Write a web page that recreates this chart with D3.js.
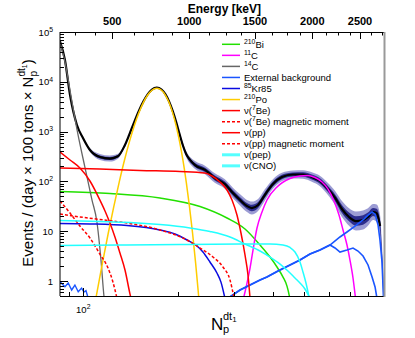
<!DOCTYPE HTML>
<html>
<head>
<meta charset="utf-8">
<title>Np spectrum fit</title>
<style>
body { margin: 0; background: #fff; }
svg { font-family: "Liberation Sans", Arial, sans-serif; }
</style>
</head>
<body>
<div id="chart"></div>

<script src="https://cdnjs.cloudflare.com/ajax/libs/d3/7.8.5/d3.min.js" charset="utf-8"></script>
<script>
// spectra: [N_p, events / (day x 100 tons x N_p)]
var c14 = [[84.4,62000],[87.5,25000],[91.9,4310],[96.0,938],[101.2,194],[106.6,42.3],[110.5,15.3],[113.8,2.64],[116.3,0.5],[117.5,0.3]];
var bi210 = [[84.4,62.7],[121.5,57.1],[175,46.5],[234.4,31.3],[285.4,18.4],[325.4,11.1],[363.1,5.28],[390.6,3.03],[411,1.91],[429.4,1.2],[442,0.79],[450.2,0.48],[455,0.3]];
var c11 = [[321.9,0.45],[330.2,0.91],[337.6,1.82],[345,4.19],[355.2,11.6],[368.4,24.3],[382,42.3],[411,77.2],[451.9,114.4],[486,128.3],[511.5,131.3],[542.2,119.7],[570.7,97.3],[596.4,70.3],[623,40.4],[646,21.1],[665.2,10.6],[684.8,5.28],[699.9,2.64],[715.5,1.15],[728.7,0.45]];
var extBkgLow = [[84.4,0.97],[87.5,0.77],[89.6,0.91],[91.9,0.66],[94.1,0.83],[96.4,0.61],[98.8,0.72],[100.5,0.6],[102,0.64],[103.7,0.45]];
var extBkgA = [[287.4,0.45],[313.8,0.66],[337.6,0.83],[363.1,1.05],[381.9,1.2],[414,1.59],[451.9,2.1],[486,2.64],[522.8,3.48],[562.3,4.19],[604.9,5.28],[650.6,7.65],[684.8,9.64],[726.1,12.7],[769.8,16.8],[798.4,21.1],[822.2,24.3],[840.4,22],[859,13.3],[871,6.66],[884,2.41],[893.8,0.45]];
var extBkgB = [[287.4,0.45],[313.8,0.66],[337.6,0.83],[363.1,1.05],[381.9,1.2],[414,1.59],[451.9,2.1],[486,2.64],[522.8,3.48],[562.3,4.19],[604.9,5.28],[627.5,4.6],[650.6,3.82],[684.8,4.19],[715.6,4.6],[742,4.0],[769.8,3.18],[798.4,2.1],[822.2,1.2],[840.4,0.76],[852.2,0.45]];
var kr85 = [[84.4,14.3],[105,14.0],[137.6,13.0],[175,10.6],[195.2,8.8],[213.2,6.66],[229.3,5.05],[239.5,3.82],[252,2.41],[265.2,1.45],[273.1,0.95],[281.1,0.45]];
var po210 = [[108,0.27],[110,0.5],[115,2.29],[120,9.1],[125,31.6],[130,97],[135,263],[140,622],[145,1297],[150,2377],[155,3830],[160,5420],[165,6760],[171,7400],[177,6760],[182,5420],[187,3830],[192,2377],[197,1297],[202,622],[207,263],[212,97],[217,31.6],[222,9.1],[227,2.29],[232,0.5],[234,0.27]];
var be7 = [[84.4,186],[112.9,177],[151.2,165.6],[202.5,158],[242.9,147.4],[255.8,128.3],[271.2,97.3],[285.4,67.2],[296,42.3],[306.9,21.1],[316,9.2],[325.4,3.33],[332.6,1.32],[337.6,0.45]];
var be7Mm = [[84.4,22.1],[97.6,19.3],[112.9,17.2],[137.6,14.6],[175,10.6],[213.2,6.66],[234.4,4.6],[257.6,3.03],[277.1,1.91],[291.7,1.05],[300.5,0.45]];
var pp = [[84.4,389],[90.8,269],[97.6,186],[105,101.9],[112.9,42.3],[117.2,25.5],[121.5,14.6],[126,7.65],[130.7,3.65],[135.6,1.66],[140.6,0.55],[141.6,0.45]];
var ppMm = [[84.4,40.4],[90.8,23.2],[97.6,12.7],[105,7.3],[112.9,3.48],[119.8,1.82],[124.2,0.95],[127.9,0.45]];
var pep = [[84.4,5.16],[130.7,5.28],[202.5,5.41],[313.8,5.53],[390.6,5.53],[429.4,5.28],[451.9,4.71],[468.6,3.82],[486,2.41],[496.7,1.52],[507.7,0.91],[518.9,0.48]];
var cno = [[84.4,16.4],[112.9,15.7],[140.6,15.0],[175,13.6],[217.9,11.6],[252,9.86],[291.7,7.65],[325.4,5.53],[363.1,4.0],[390.6,3.03],[420.2,2.19],[445.2,1.59],[468.6,1.15],[486,0.91],[504,0.69],[522.8,0.45]];
var fitTotal = [[84.4,65000],[87.5,27400],[90.8,5430],[95.5,1358],[99.8,743],[105,427],[112.9,309],[121.5,288],[128.8,320],[135,510],[140,880],[145,1550],[150,2600],[155,4000],[160,5600],[165,7000],[171,7650],[177,7000],[182,5650],[187,4050],[192,2600],[197,1550],[202,880],[207,520],[212,350],[218,270],[226,213],[243,170],[261,117],[281,88.7],[298,58.5],[314,42.3],[330,32.1],[342,29.2],[358,33.6],[376,53.3],[399,88.7],[426,122.5],[462,137.6],[497,137.6],[530,122.5],[562,102],[596,70.3],[628,46.5],[660,27.9],[695,19.3],[731,16],[770,16.8],[798,19.3],[828,24.3],[850,23],[872,12.7]];
// measured data: [N_p, rate, multiplicative scatter of the bins]
var data = [[84.4,65000,1.03],[87.5,27400,1.03],[90.8,5430,1.03],[95.5,1358,1.04],[99.8,743,1.05],[105,427,1.08],[112.9,309,1.15],[121.5,288,1.15],[128.8,320,1.12],[135,510,1.08],[140,880,1.05],[150,2600,1.04],[160,5600,1.04],[171,7650,1.04],[182,5650,1.04],[192,2600,1.05],[202,880,1.08],[212,350,1.15],[226,213,1.2],[243,170,1.22],[261,117,1.25],[281,88.7,1.25],[298,58.5,1.28],[314,42.3,1.3],[330,32.1,1.32],[342,29.2,1.35],[358,33.6,1.32],[376,53.3,1.3],[399,88.7,1.25],[426,122.5,1.22],[462,137.6,1.2],[497,137.6,1.22],[530,122.5,1.25],[562,102,1.28],[596,70.3,1.32],[628,46.5,1.38],[660,27.9,1.45],[695,19.3,1.5],[731,16,1.55],[770,16.8,1.55],[798,19.3,1.5],[828,24.3,1.45],[850,23,1.5],[872,12.7,1.6],[884,3,1.8],[894,0.6,2]];

// energy calibration of the top axis (keV -> N_p)
var energyCal = [250, 500, 750, 1000, 1500, 2000, 2500, 2750];
var npCal = [94.1, 123.6, 165.9, 216.7, 350, 531.6, 753, 882];
var energyLabels = [500, 1000, 1500, 2000, 2500];
var energyStep = 125;
var yLabels = [1, 10, 100, 1000, 10000, 100000];
var xLabels = [100];

var legendLabels = ["^{210}Bi", "^{11}C", "^{14}C", "External background", "^{85}Kr85", "^{210}Po",
	"\u03bd(^{7}Be)", "\u03bd(^{7}Be) magnetic moment", "\u03bd(pp)", "\u03bd(pp) magnetic moment", "\u03bd(pep)", "\u03bd(CNO)"];

var W = 415, H = 338;
var svg = d3.select("#chart").append("svg").attr("width", W).attr("height", H);

var x = d3.scaleLog().domain([84.4, 897]).range([60, 384]);
var y = d3.scaleLog().domain([0.5, 1e5]).range([296, 32]);
var eToNp = d3.scaleLinear().domain(energyCal).range(npCal);

svg.append("clipPath").attr("id", "clip")
	.append("rect").attr("x", 60).attr("y", 32).attr("width", 324).attr("height", 264);
var plot = svg.append("g").attr("clip-path", "url(#clip)");

var line = d3.line().x(function(d){ return x(d[0]); }).y(function(d){ return y(d[1]); }).curve(d3.curveMonotoneX);
var rough = d3.line().x(function(d){ return x(d[0]); }).y(function(d){ return y(d[1]); });

// data: outer (spread) band lighter, inner band darker
function band(k) {
	return d3.area().x(function(d){ return x(d[0]); })
		.y0(function(d){ return y(d[1] / Math.pow(d[2], k)); })
		.y1(function(d){ return y(d[1] * Math.pow(d[2], k)); }).curve(d3.curveMonotoneX);
}
plot.append("path").datum(data).attr("d", band(1))
	.attr("fill", "#4a4ab0").attr("fill-opacity", 0.55);
plot.append("path").datum(data).attr("d", band(0.5))
	.attr("fill", "#10107a").attr("fill-opacity", 0.8);

// total fit
plot.append("path").datum(fitTotal).attr("d", line)
	.attr("fill", "none").attr("stroke", "#000").attr("stroke-width", 2.2);

var series = [
	{d: bi210, c: "#22e000", w: 1.5},
	{d: c11, c: "#ff00ff", w: 1.5},
	{d: c14, c: "#666", w: 1.3},
	{d: extBkgLow, c: "#1a55ff", w: 1.4, rough: true},
	{d: extBkgB, c: "#1a55ff", w: 1.6, rough: true},
	{d: extBkgA, c: "#1a55ff", w: 1.6, rough: true},
	{d: kr85, c: "#0a0ae0", w: 1.5},
	{d: po210, c: "#ffcc00", w: 1.5},
	{d: be7, c: "#ff0000", w: 1.5},
	{d: be7Mm, c: "#ff0000", w: 1.5, dash: "3,2"},
	{d: pp, c: "#ff0000", w: 1.5},
	{d: ppMm, c: "#ff0000", w: 1.5, dash: "3,2"},
	{d: pep, c: "#22ffff", w: 1.5},
	{d: cno, c: "#22ffff", w: 1.5}
];
series.forEach(function(s){
	plot.append("path").datum(s.d).attr("d", s.rough ? rough : line)
		.attr("fill", "none").attr("stroke", s.c).attr("stroke-width", s.w)
		.attr("stroke-dasharray", s.dash || null);
});

// text with ^{..} superscripts
function rich(t, str, size) {
	var parts = str.split(/\^\{([^}]*)\}/), up = false;
	parts.forEach(function(p, i){
		if (p === "") return;
		var ts = t.append("tspan").text(p);
		if (i % 2 === 1) { ts.attr("font-size", size * 0.72).attr("dy", -size * 0.4); up = true; }
		else if (up) { ts.attr("dy", size * 0.4); up = false; }
	});
}

// axes
var ax = svg.append("g").attr("stroke", "#000").attr("stroke-width", 1);
ax.append("line").attr("x1", 60).attr("x2", 60).attr("y1", 32).attr("y2", 296);
ax.append("line").attr("x1", 60).attr("x2", 384).attr("y1", 296.5).attr("y2", 296.5);
ax.append("line").attr("x1", 60).attr("x2", 384).attr("y1", 32.5).attr("y2", 32.5);
svg.append("line").attr("x1", 384.5).attr("x2", 384.5).attr("y1", 32).attr("y2", 297)
	.attr("stroke", "#999").attr("stroke-width", 2);

y.ticks().forEach(function(v){
	if (v <= 0.5) return;
	var major = yLabels.indexOf(v) >= 0;
	var yy = Math.round(y(v)) + 0.5;
	ax.append("line").attr("x1", 60).attr("x2", 60 + (major ? 8 : 4)).attr("y1", yy).attr("y2", yy);
});
yLabels.forEach(function(v){
	var e = Math.round(Math.log10(v));
	var t = svg.append("text").attr("x", 53).attr("y", y(v) + 3.5)
		.attr("text-anchor", "end").attr("font-size", 9.5);
	rich(t, e < 2 ? String(v) : "10^{" + e + "}", 9.5);
});

x.ticks().forEach(function(v){
	var major = xLabels.indexOf(v) >= 0;
	var xx = Math.round(x(v)) + 0.5;
	ax.append("line").attr("x1", xx).attr("x2", xx).attr("y1", 296).attr("y2", 296 - (major ? 8 : 4));
});
xLabels.forEach(function(v){
	var t = svg.append("text").attr("x", x(v)).attr("y", 313)
		.attr("text-anchor", "middle").attr("font-size", 9.5);
	rich(t, "10^{" + Math.round(Math.log10(v)) + "}", 9.5);
});

// energy axis on top
d3.range(energyCal[0], energyCal[energyCal.length - 1] + 1, energyStep).forEach(function(e){
	var major = energyLabels.indexOf(e) >= 0;
	var xx = Math.round(x(eToNp(e))) + 0.5;
	ax.append("line").attr("x1", xx).attr("x2", xx).attr("y1", 32).attr("y2", 32 + (major ? 7 : 3.5));
});
energyLabels.forEach(function(e){
	svg.append("text").attr("x", x(eToNp(e))).attr("y", 25)
		.attr("text-anchor", "middle").attr("font-size", 11).attr("font-weight", "bold").text(e);
});
svg.append("text").attr("x", 261).attr("y", 13).attr("text-anchor", "end")
	.attr("font-size", 12).attr("font-weight", "bold").text("Energy [keV]");

// axis titles
var xt = svg.append("g");
xt.append("text").attr("x", 211).attr("y", 330).attr("font-size", 17).text("N");
xt.append("text").attr("x", 223).attr("y", 333).attr("font-size", 11).text("p");
xt.append("text").attr("x", 223).attr("y", 320).attr("font-size", 11).text("dt")
	.append("tspan").attr("font-size", 8).attr("dy", 2).text("1");

var yt = svg.append("text").attr("transform", "translate(33,163) rotate(-90)")
	.attr("text-anchor", "middle").attr("font-size", 15);
yt.append("tspan").text("Events / (day \u00d7 100 tons \u00d7 N");
yt.append("tspan").attr("font-size", 10).attr("dy", 4).text("p");
yt.append("tspan").attr("font-size", 10).attr("dx", -5.6).attr("dy", -12).text("dt");
yt.append("tspan").attr("font-size", 7).attr("dy", 2).text("1");
yt.append("tspan").attr("dy", 6).text(")");

// legend
var legStyle = [
	{c: "#22e000", w: 1.5}, {c: "#ff00ff", w: 1.5}, {c: "#666", w: 1.5}, {c: "#1a55ff", w: 1.5},
	{c: "#0a0ae0", w: 1.5}, {c: "#ffcc00", w: 1.5}, {c: "#ff0000", w: 1.5}, {c: "#ff0000", w: 1.5, dash: "3,2"},
	{c: "#ff0000", w: 1.5}, {c: "#ff0000", w: 1.5, dash: "3,2"}, {c: "#55ffff", w: 3}, {c: "#55ffff", w: 3}
];
var leg = svg.append("g");
legendLabels.forEach(function(lab, i){
	var ly = 44.3 + i * 11.05, s = legStyle[i];
	leg.append("line").attr("x1", 222).attr("x2", 240).attr("y1", ly).attr("y2", ly)
		.attr("stroke", s.c).attr("stroke-width", s.w).attr("stroke-dasharray", s.dash || null);
	var t = leg.append("text").attr("x", 244).attr("y", ly + 3.5).attr("font-size", 9.5);
	rich(t, lab, 9.5);
});
</script>
</body>
</html>
